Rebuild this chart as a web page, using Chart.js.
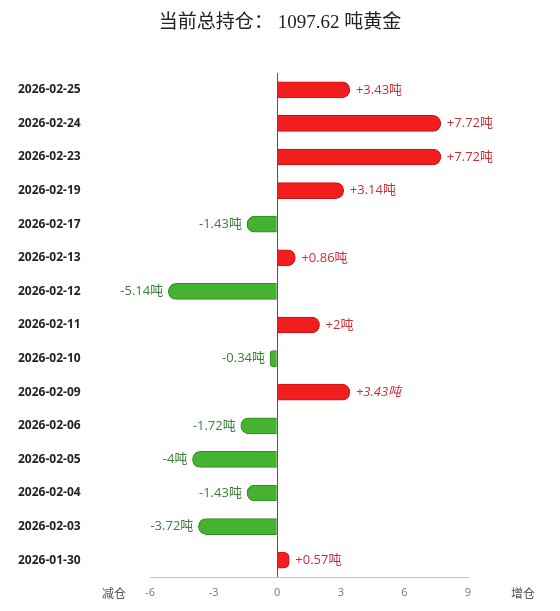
<!DOCTYPE html>
<html>
<head>
<meta charset="utf-8">
<script src="https://cdn.jsdelivr.net/npm/chart.js@4"></script>
<style>
  html, body { margin: 0; padding: 0; background: #fff; }
  canvas { display: block; }
</style>
</head>
<body>
<canvas id="holdings" width="560" height="611" style="width:560px;height:611px"></canvas>
<script>
const dates = [
    "2026-02-25", "2026-02-24", "2026-02-23", "2026-02-19", "2026-02-17",
    "2026-02-13", "2026-02-12", "2026-02-11", "2026-02-10", "2026-02-09",
    "2026-02-06", "2026-02-05", "2026-02-04", "2026-02-03", "2026-01-30",
];
const changes = [3.43, 7.72, 7.72, 3.14, -1.43, 0.86, -5.14, 2, -0.34, 3.43, -1.72, -4, -1.43, -3.72, 0.57];
const xTicks = [-6, -3, 0, 3, 6, 9];
const totalHolding = "1097.62";

const upFill = "#f21e1e";
const upEdge = "#c81414";
const downFill = "#46b232";
const downEdge = "#2f8a22";

// title, value labels and axis captions drawn by hand
const extras = {
    id: "extras",
    afterDatasetsDraw(chart) {
        const { ctx } = chart;
        const bars = chart.getDatasetMeta(0).data;
        ctx.save();
        ctx.textBaseline = "middle";

        ctx.font = "19px 'Liberation Serif', 'Noto Sans CJK SC', serif";
        ctx.fillStyle = "#222";
        ctx.textAlign = "center";
        ctx.fillText("当前总持仓： " + totalHolding + " 吨黄金", chart.width / 2, 23);

        bars.forEach((bar, i) => {
            const v = changes[i];
            const txt = (v > 0 ? "+" : "") + v + "吨";
            // the 02-09 label is italic in the source
            const italic = dates[i] === "2026-02-09" ? "italic " : "";
            ctx.font = italic + "13px 'Open Sans', 'Noto Sans CJK SC', sans-serif";
            if (v >= 0) {
                ctx.fillStyle = "#c8303a";
                ctx.textAlign = "left";
                ctx.fillText(txt, bar.x + 6, bar.y);
            } else {
                ctx.fillStyle = "#3d7d3a";
                ctx.textAlign = "right";
                ctx.fillText(txt, bar.x - 5, bar.y);
            }
        });

        const xs = chart.scales.x;
        ctx.font = "12px 'Noto Sans CJK SC', sans-serif";
        ctx.fillStyle = "#555";
        ctx.textAlign = "center";
        ctx.fillText("减仓", xs.left - 36, xs.top + 16);
        ctx.fillText("增仓", xs.right + 55, xs.top + 16);
        ctx.restore();
    },
};

new Chart(document.getElementById("holdings"), {
    type: "bar",
    data: {
        labels: dates,
        datasets: [{
            data: changes,
            backgroundColor: changes.map(v => (v >= 0 ? upFill : downFill)),
            borderColor: changes.map(v => (v >= 0 ? upEdge : downEdge)),
            borderWidth: 1,
            borderRadius: 8,
            borderSkipped: "start",
            barThickness: 16,
        }],
    },
    options: {
        indexAxis: "y",
        responsive: false,
        animation: false,
        layout: { padding: { left: 18, right: 92, top: 73, bottom: 0 } },
        plugins: {
            legend: { display: false },
            tooltip: { enabled: false },
            title: { display: false },
        },
        scales: {
            x: {
                min: -6,
                max: 9,
                afterBuildTicks: scale => {
                    scale.ticks = xTicks.map(v => ({ value: v }));
                },
                afterFit: scale => { scale.height = 34; },
                grid: {
                    drawTicks: false,
                    color: c => (c.tick && c.tick.value === 0 ? "#555" : "rgba(0,0,0,0)"),
                    lineWidth: 1,
                },
                border: { display: true, color: "#c4c4c4", width: 1 },
                ticks: {
                    padding: 9,
                    color: "#777",
                    font: { size: 11, family: "'Open Sans', sans-serif" },
                },
            },
            y: {
                // a big tick padding would also pad the chart bottom, so pin labels left instead
                afterFit: scale => { scale.width = 132; },
                grid: { display: false },
                border: { display: false },
                ticks: {
                    padding: 4,
                    crossAlign: "far",
                    color: "#222",
                    font: { size: 12, weight: "bold", family: "'Open Sans', 'Noto Sans', sans-serif" },
                },
            },
        },
    },
    plugins: [extras],
});
</script>
</body>
</html>
